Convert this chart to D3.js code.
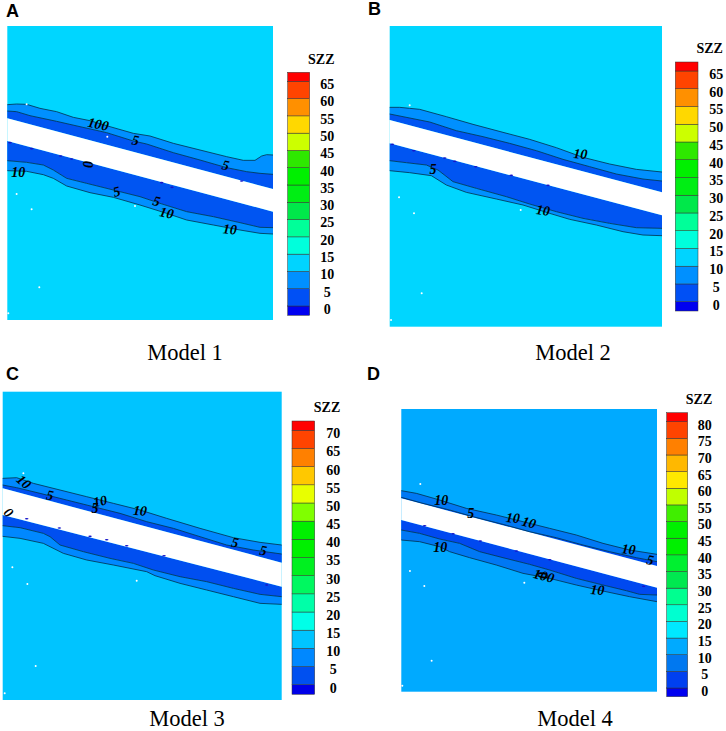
<!DOCTYPE html>
<html lang="en">
<head>
<meta charset="utf-8">
<title>SZZ contours, models 1-4</title>
<script src="https://cdnjs.cloudflare.com/ajax/libs/d3/7.8.5/d3.min.js"></script>
<style>
html, body { margin: 0; padding: 0; background: #fff; }
svg { display: block; }
</style>
</head>
<body>
<script>
var m1Top = [[22,314],[50,312],[80,313],[120,325],[170,335],[220,352],[270,362],[330,380],[400,400],[450,408],[520,430],[600,450],[680,470],[730,481],[765,481],[785,468],[800,464],[819,465]];
var m1Mid = [[22,333],[50,335],[90,347],[170,364],[240,380],[320,398],[400,423],[440,432],[520,458],[600,480],[680,503],[740,515],[780,520],[819,523]];
var m1GapTop = [[22,355],[819,567]];
var m1GapBot = [[22,423],[819,635]];
var m1LowMid = [[22,482],[80,487],[130,495],[160,510],[200,535],[260,550],[340,570],[420,590],[480,610],[560,635],[640,650],[720,668],[780,682],[819,683]];
var m1LowBot = [[22,512],[80,514],[130,524],[160,535],[200,558],[270,578],[340,592],[420,615],[500,640],[560,660],[640,675],[720,690],[780,700],[819,702]];

var m2Top = [[80,322],[110,322],[140,325],[170,328],[250,350],[330,373],[420,397],[500,418],[580,443],[660,472],[740,492],[820,508],[897,516]];
var m2Mid = [[80,342],[120,350],[200,366],[280,392],[360,410],[440,430],[520,452],[600,478],[680,500],[760,522],[840,537],[897,543]];
var m2GapTop = [[80,360],[897,577]];
var m2GapBot = [[80,430],[897,646]];
var m2LowMid = [[80,482],[130,488],[190,495],[225,510],[270,545],[340,565],[430,590],[500,612],[580,635],[660,655],[740,670],[820,683],[897,685]];
var m2LowBot = [[80,512],[140,518],[205,527],[250,555],[310,577],[400,597],[480,615],[560,640],[620,658],[700,675],[780,695],[840,705],[897,707]];

var m3Top = [[8,340],[50,338],[100,355],[180,375],[260,395],[340,415],[420,435],[500,460],[600,490],[700,518],[780,532],[845,540]];
var m3Mid = [[8,360],[50,368],[120,385],[200,405],[280,425],[360,445],[440,470],[520,490],[600,515],[680,540],[760,555],[845,567]];
var m3GapTop = [[8,370],[845,593]];
var m3GapBot = [[8,450],[845,665]];
var m3LowMid = [[8,482],[60,488],[130,505],[150,515],[180,540],[250,560],[330,580],[400,595],[460,615],[540,635],[620,650],[700,670],[780,688],[845,695]];
var m3LowBot = [[8,514],[60,520],[130,535],[190,565],[260,585],[340,600],[440,620],[465,632],[540,655],[620,675],[700,695],[780,715],[845,718]];

var m4Top = [[115,377],[160,385],[230,405],[310,430],[400,450],[480,470],[560,490],[640,510],[720,535],[800,555],[882,568]];
var m4Mid = [[115,397],[180,415],[260,435],[330,455],[420,478],[500,500],[580,518],[660,540],[740,560],[820,578],[882,590]];
var m4GapTop = [[115,400],[882,603]];
var m4GapBot = [[115,465],[882,668]];
var m4LowMid = [[115,495],[170,505],[230,522],[290,535],[350,560],[420,578],[500,598],[560,615],[640,640],[720,660],[790,677],[830,688],[882,690]];
var m4LowBot = [[115,525],[170,530],[230,545],[260,560],[320,578],[400,600],[480,625],[560,640],[640,660],[720,678],[800,695],[882,710]];

// contour labels: text, x, y, rotation
var m1Labels = [["100",295,372,12],["5",407,420,10],["5",677,495,12],["5",350,574,-15],["5",470,603,15],["10",500,638,12],["10",690,687,5],["10",55,516,0],["0",265,493,90]];
var m2Labels = [["10",652,461,5],["5",210,507,0],["10",540,630,8]];
var m3Labels = [["10",72,350,42],["5",150,390,10],["10",300,408,-12],["5",285,428,0],["10",420,436,5],["5",705,532,10],["5",790,556,10],["0",26,442,45]];
var m4Labels = [["10",235,405,0],["5",323,444,0],["10",450,458,5],["10",498,472,15],["10",797,552,5],["5",862,584,10],["10",232,545,0],["100",543,632,15],["0",541,631,90],["10",703,674,5]];

// white specks and dark spots
var m1Specks = [[80,313],[50,582],[95,628],[118,862],[405,618],[25,940],[322,410]];
var m2Specks = [[140,316],[108,592],[153,640],[176,880],[473,630],[84,960]];
var m3Specks = [[70,325],[37,607],[82,657],[107,903],[410,647],[14,985]];
var m4Specks = [[172,357],[141,618],[184,663],[206,887],[484,653],[118,962]];
var m1Spots = [[30,428],[95,446],[182,468],[215,477],[485,548],[516,562],[725,543]];
var m2Spots = [[88,433],[152,452],[245,474],[275,484],[338,500],[445,526],[555,556]];
var m3Spots = [[80,461],[178,489],[270,514],[320,524],[380,542],[492,572],[800,660]];
var m4Spots = [[185,482],[270,506],[352,528],[460,558],[560,584],[842,664]];

// colour legends
var levels1 = [0,5,10,15,20,25,30,35,40,45,50,55,60,65];
var levels3 = [0,5,10,15,20,25,30,35,40,45,50,55,60,65,70];
var levels4 = [0,5,10,15,20,25,30,35,40,45,50,55,60,65,70,75,80];
var colors1 = ["#0000f0","#0050f5","#0090ff","#00d4ff","#00ffdc","#00ff99","#00e84a","#00ee14","#00f000","#10ee00","#2ee800","#ccff00","#ffd800","#ff9000","#ff4400","#ff0000"].slice(0, 16).filter(function(c, i) { return i != 9; });
var colors3 = ["#0000e8","#0050f0","#0088ff","#00c4ff","#00ffe8","#00ffa8","#00f860","#00f020","#00f000","#00f000","#80ff00","#e8ff00","#ffc800","#ff8000","#ff4400","#ff0000"];
var colors4 = ["#0000f0","#0040f0","#0078f0","#00aaff","#00e8ff","#00ffd0","#00ff90","#00e850","#00f030","#00f000","#00f000","#40ee00","#c0ff00","#ffe800","#ffb800","#ff8000","#ff4400","#ff0000"];

var w = 726, h = 731;

var panels = [
  {letter: "A", title: "Model 1", top: m1Top, mid: m1Mid, gapTop: m1GapTop, gapBot: m1GapBot, lowMid: m1LowMid, lowBot: m1LowBot,
   labels: m1Labels, specks: m1Specks, spots: m1Spots, levels: levels1, colors: colors1,
   dx: [22,819], dy: [78,960], box: [7.3,273,26,320], bg: "#00d6ff", midC: "#0090ff", darkC: "#0654f2",
   lx: [287.7,309.7], ly: [72.3,315.3], edge: [306,81.3], numX: 327.3, szz: [321.3,59], letterAt: [6,17], titleAt: [185,360]},
  {letter: "B", title: "Model 2", top: m2Top, mid: m2Mid, gapTop: m2GapTop, gapBot: m2GapBot, lowMid: m2LowMid, lowBot: m2LowBot,
   labels: m2Labels, specks: m2Specks, spots: m2Spots, levels: levels1, colors: colors1,
   dx: [80,897], dy: [78,980], box: [389.7,662,26,326.7], bg: "#00d6ff", midC: "#0090ff", darkC: "#0654f2",
   lx: [675.3,698], ly: [62,311], edge: [301.7,71], numX: 716.3, szz: [709.7,48], letterAt: [368,15], titleAt: [573,360]},
  {letter: "C", title: "Model 3", top: m3Top, mid: m3Mid, gapTop: m3GapTop, gapBot: m3GapBot, lowMid: m3LowMid, lowBot: m3LowBot,
   labels: m3Labels, specks: m3Specks, spots: m3Spots, levels: levels3, colors: colors3,
   dx: [8,845], dy: [80,1005], box: [2.7,281.7,391.7,700], bg: "#00c4ff", midC: "#0088ff", darkC: "#0650f0",
   lx: [292,314.7], ly: [421,694.3], edge: [684.7,430.3], numX: 333.3, szz: [327,407.3], letterAt: [6,380], titleAt: [187,726]},
  {letter: "D", title: "Model 4", top: m4Top, mid: m4Mid, gapTop: m4GapTop, gapBot: m4GapBot, lowMid: m4LowMid, lowBot: m4LowBot,
   labels: m4Labels, specks: m4Specks, spots: m4Spots, levels: levels4, colors: colors4,
   dx: [115,882], dy: [132,980], box: [401.3,657,409,691.7], bg: "#00aaff", midC: "#0078f4", darkC: "#0648f0",
   lx: [666.7,687.7], ly: [412.7,696.7], edge: [688,421.7], numX: 704.7, szz: [699,399], letterAt: [367,380], titleAt: [575,726]}
];

var svg = d3.select("body").append("svg")
  .attr("width", w)
  .attr("height", h);

// the source is a soft raster, so take the edge off the fields
svg.append("filter").attr("id", "soft")
  .attr("x", "-2%").attr("y", "-2%").attr("width", "104%").attr("height", "104%")
  .append("feGaussianBlur").attr("stdDeviation", 0.4);

panels.forEach(function(p) {
  var x = d3.scaleLinear().domain(p.dx).range([p.box[0], p.box[1]]);
  var y = d3.scaleLinear().domain(p.dy).range([p.box[2], p.box[3]]);
  var line = d3.line().x(function(d) { return x(d[0]); }).y(function(d) { return y(d[1]); });
  var between = function(a, b) {
    return line(a.concat(b.slice().reverse())) + "Z";
  };

  var g = svg.append("g");
  var field = g.append("g").attr("filter", "url(#soft)");

  field.append("rect")
    .attr("x", p.box[0]).attr("y", p.box[2])
    .attr("width", p.box[1] - p.box[0]).attr("height", p.box[3] - p.box[2])
    .attr("fill", p.bg);

  // bands either side of the white gap
  field.append("path").attr("d", between(p.top, p.mid)).attr("fill", p.midC);
  field.append("path").attr("d", between(p.mid, p.gapTop)).attr("fill", p.darkC);
  field.append("path").attr("d", between(p.gapBot, p.lowMid)).attr("fill", p.darkC);
  field.append("path").attr("d", between(p.lowMid, p.lowBot)).attr("fill", p.midC);
  field.append("path").attr("d", between(p.gapTop, p.gapBot)).attr("fill", "#fff");

  field.selectAll("path.contour")
    .data([p.top, p.mid, p.lowMid, p.lowBot])
    .enter()
    .append("path")
    .attr("class", "contour")
    .attr("d", line)
    .attr("fill", "none")
    .attr("stroke", "#04304a")
    .attr("stroke-width", 0.8);

  field.selectAll("ellipse.spot")
    .data(p.spots)
    .enter()
    .append("ellipse")
    .attr("class", "spot")
    .attr("cx", function(d) { return x(d[0]); })
    .attr("cy", function(d) { return y(d[1]); })
    .attr("rx", 1.8).attr("ry", 0.8)
    .attr("fill", "#1515c8");

  field.selectAll("circle.speck")
    .data(p.specks)
    .enter()
    .append("circle")
    .attr("class", "speck")
    .attr("cx", function(d) { return x(d[0]); })
    .attr("cy", function(d) { return y(d[1]); })
    .attr("r", 1)
    .attr("fill", "#fff");

  g.selectAll("text.clabel")
    .data(p.labels)
    .enter()
    .append("text")
    .attr("class", "clabel")
    .attr("transform", function(d) { return "translate(" + x(d[1]) + "," + y(d[2]) + ") rotate(" + d[3] + ")"; })
    .attr("text-anchor", "middle")
    .attr("dy", "0.35em")
    .attr("font-family", "'Liberation Serif'")
    .attr("font-style", "italic")
    .attr("font-weight", "bold")
    .attr("font-size", "14px")
    .attr("fill", "#000")
    .text(function(d) { return d[0]; });

  // legend: each cell runs between two levels, with a short cap at both ends
  var ly = d3.scaleLinear()
    .domain([0, p.levels[p.levels.length - 1]])
    .range(p.edge);
  var edges = [p.ly[1]].concat(p.levels.map(ly), [p.ly[0]]);

  g.selectAll("rect.cell")
    .data(p.colors)
    .enter()
    .append("rect")
    .attr("class", "cell")
    .attr("x", p.lx[0])
    .attr("y", function(d, i) { return edges[i + 1]; })
    .attr("width", p.lx[1] - p.lx[0])
    .attr("height", function(d, i) { return edges[i] - edges[i + 1]; })
    .attr("fill", function(d) { return d; })
    .attr("stroke", "#333")
    .attr("stroke-width", 0.5);

  g.selectAll("text.tick")
    .data(p.levels)
    .enter()
    .append("text")
    .attr("class", "tick")
    .attr("x", p.numX)
    .attr("y", function(d) { return ly(d) + 3; })
    .attr("dy", "0.35em")
    .attr("text-anchor", "middle")
    .attr("font-family", "'Liberation Serif'")
    .attr("font-weight", "bold")
    .attr("font-size", "14px")
    .text(function(d) { return d; });

  g.append("text")
    .attr("x", p.szz[0]).attr("y", p.szz[1])
    .attr("dy", "0.35em")
    .attr("text-anchor", "middle")
    .attr("font-family", "'Liberation Serif'")
    .attr("font-weight", "bold")
    .attr("font-size", "14px")
    .text("SZZ");

  g.append("text")
    .attr("x", p.letterAt[0]).attr("y", p.letterAt[1])
    .attr("font-family", "'Liberation Sans'")
    .attr("font-weight", "bold")
    .attr("font-size", "18px")
    .text(p.letter);

  g.append("text")
    .attr("x", p.titleAt[0]).attr("y", p.titleAt[1])
    .attr("text-anchor", "middle")
    .attr("font-family", "'Liberation Serif'")
    .attr("font-size", "22.5px")
    .text(p.title);
});
</script>
</body>
</html>
